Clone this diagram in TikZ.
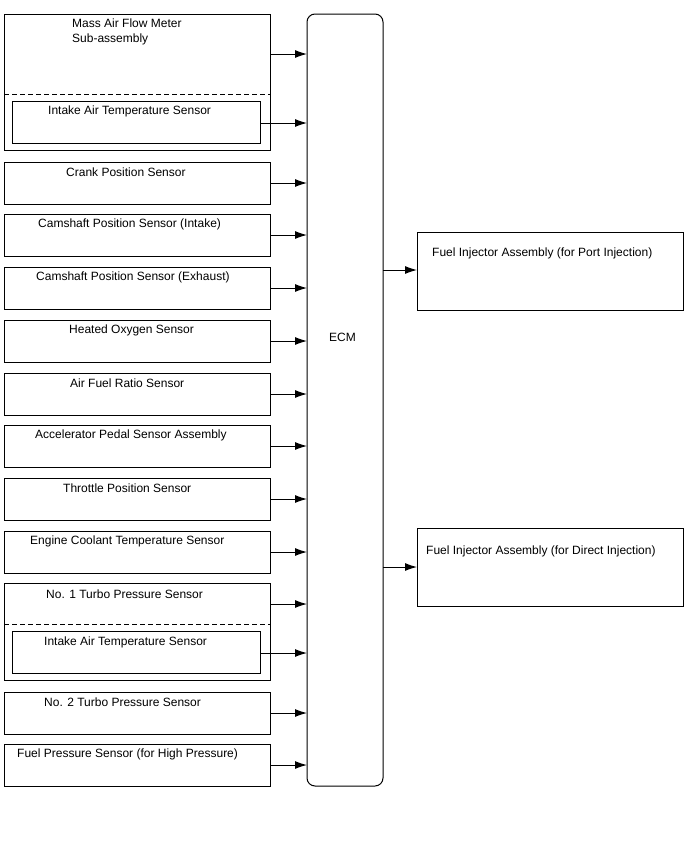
\documentclass[tikz,border=0pt]{standalone}
\usepackage{fontspec}
\setmainfont{Liberation Sans}
\usetikzlibrary{arrows.meta}
\begin{document}
\begin{tikzpicture}[x=1pt,y=-1pt,
  box/.style={draw,line width=1pt},
  dline/.style={line width=1pt,dash pattern=on 5pt off 3pt},
  lbl/.style={anchor=west,inner sep=0pt,font=\fontsize{12}{15}\selectfont},
  arr/.style={line width=1pt,-{Latex[length=12pt,width=8pt]}}]
\useasboundingbox (0,0) rectangle (688,852);
% ECM
\draw[line width=1pt,rounded corners=8pt] (307,14) rectangle (383,786);
\node[lbl] (ecm) at (329,337) {ECM};
% MAF
\draw[box] (4,14) rectangle (270,150);
\draw[dline] (4,94) -- (270,94);
\node[lbl,align=left] (maf) at (72,32) {Mass Air Flow Meter\\Sub-assembly};
\draw[box] (12,101) rectangle (260,143);
\node[lbl] (iat1) at (48,111) {Intake Air Temperature Sensor};
\coordinate (a1) at (270,54); \coordinate (b1) at (307,54);
\coordinate (a2) at (260,123); \coordinate (b2) at (307,123);
\draw[arr] (a1) -- (b1);
\draw[arr] (a2) -- (b2);
% simple boxes
\foreach \top/\txt/\xx/\nm in {
 162/Crank Position Sensor/66/s1,
 214/Camshaft Position Sensor (Intake)/38/s2,
 267/Camshaft Position Sensor (Exhaust)/36/s3,
 320/Heated Oxygen Sensor/69/s4,
 373/Air Fuel Ratio Sensor/70/s5,
 425/Accelerator Pedal Sensor Assembly/35/s6,
 478/Throttle Position Sensor/63/s7,
 531/Engine Coolant Temperature Sensor/30/s8,
 692/No. 2 Turbo Pressure Sensor/44/s9,
 744/Fuel Pressure Sensor (for High Pressure)/17/s10}{
  \draw[box] (4,\top) rectangle (270,\top+42);
  \node[lbl] (\nm) at (\xx,\top+10) {\txt};
  \coordinate (\nm a) at (270,\top+21);
  \coordinate (\nm b) at (307,\top+21);
  \draw[arr] (\nm a) -- (\nm b);
}
% No.1 Turbo
\draw[box] (4,583) rectangle (270,680);
\draw[dline] (4,624) -- (270,624);
\node[lbl] (t1) at (46,594) {No. 1 Turbo Pressure Sensor};
\draw[box] (12,631) rectangle (260,673);
\node[lbl] (iat2) at (44,642) {Intake Air Temperature Sensor};
\coordinate (a3) at (270,604); \coordinate (b3) at (307,604);
\coordinate (a4) at (260,653); \coordinate (b4) at (307,653);
\draw[arr] (a3) -- (b3);
\draw[arr] (a4) -- (b4);
% outputs
\draw[box] (417,232) rectangle (683,310);
\node[lbl] (port) at (432,253) {Fuel Injector Assembly (for Port Injection)};
\draw[box] (417,528) rectangle (683,606);
\node[lbl] (direct) at (426,551) {Fuel Injector Assembly (for Direct Injection)};
\coordinate (c1) at (383,270); \coordinate (d1) at (417,270);
\coordinate (c2) at (383,567); \coordinate (d2) at (417,567);
\draw[arr] (c1) -- (d1);
\draw[arr] (c2) -- (d2);
\end{tikzpicture}
\end{document}
